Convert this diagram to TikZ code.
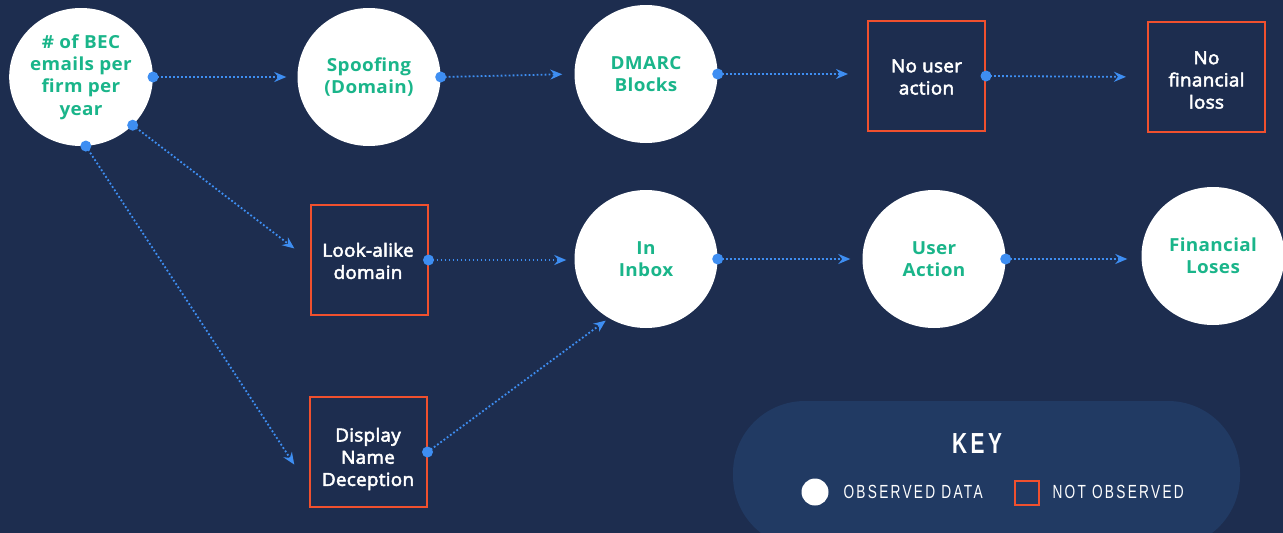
\documentclass[tikz,border=0pt]{standalone}
\usepackage{fontspec}
\setmainfont{Open Sans}
\newfontfamily\grnfont[FakeStretch=1.05,LetterSpace=2]{Open Sans}
\newfontfamily\semib[FakeBold=3,FakeStretch=1.05,LetterSpace=1.5]{Open Sans}
\newfontfamily\keyfont[FakeStretch=0.72,LetterSpace=12]{Liberation Sans}
\usetikzlibrary{arrows.meta,shapes.geometric}
\definecolor{bg}{HTML}{1D2D4F}
\definecolor{pill}{HTML}{213A63}
\definecolor{grn}{HTML}{1AB58A}
\definecolor{blu}{HTML}{3E8EF2}
\definecolor{org}{HTML}{F0502E}
\begin{document}
\begin{tikzpicture}[x=1pt,y=-1pt,
  obs/.style={ellipse,fill=white,minimum width=143pt,minimum height=138pt,inner sep=0pt,text=grn,
    font=\fontsize{18}{22.4}\selectfont\grnfont\bfseries,align=center},
  nobs/.style={draw=org,line width=2pt,minimum width=117pt,minimum height=110pt,
    inner sep=0pt},
  wtxt/.style={text=white,font=\fontsize{18}{22.2}\selectfont\semib,align=center},
  conn/.style={blu,line width=1.8pt,dash pattern=on 1.8pt off 2.2pt,
    -{Stealth[length=12pt,width=10pt,inset=4pt]}},
  dotb/.style={fill=blu},
  keylbl/.style={text=white,font=\fontsize{19}{20}\selectfont\keyfont}
]
\useasboundingbox (0,0) rectangle (1283,533);
\fill[bg] (0,0) rectangle (1283,533);
% key pill
\fill[pill,rounded corners=72pt] (733,401) rectangle (1240,548);

% observed nodes
\node[obs] (bec) at (81,77) {\# of BEC\\emails per\\firm per\\year};
\node[obs] (spoof) at (369,77) {Spoofing\\(Domain)};
\node[obs] (dmarc) at (646,74) {DMARC\\Blocks};
\node[obs] (inbox) at (646,259) {In\\Inbox};
\node[obs] (user) at (934,259) {User\\Action};
\node[obs] (fin) at (1213,256) {Financial\\Loses};

% not observed nodes
\node[nobs] (nouser) at (926.5,76) {};
\node[wtxt] (nousert) at (926.5,77) {No user\\action};
\node[nobs] (nofin) at (1206.5,77) {};
\node[wtxt] (nofint) at (1206.5,80) {No\\financial\\loss};
\node[nobs] (look) at (369,260) {};
\node[wtxt] (lookt) at (368,261) {Look-alike\\domain};
\node[nobs] (disp) at (368,452) {};
\node[wtxt] (dispt) at (368,459) {Display\\Name\\Deception};

% connectors
\draw[conn,shorten >=11pt] (bec.east) -- (spoof.west);
\draw[conn,shorten >=12pt] (spoof.east) -- (dmarc.west);
\draw[conn,shorten >=19pt] (dmarc.east) -- (nouser.west |- dmarc.east);
\draw[conn,shorten >=21pt] (nouser.east) -- (nofin.west);
\draw[conn,shorten >=19pt] (bec.-43) -- (look.west);
\draw[conn,shorten >=26pt] (bec.-86) -- (disp.210);
\draw[conn,shorten >=8pt] (look.east) -- (inbox.west |- look.east);
\draw[conn,shorten >=4pt] (disp.east) -- (inbox.238);
\draw[conn,shorten >=12pt] (inbox.east) -- (user.west);
\draw[conn,shorten >=14pt] (user.east) -- (fin.west |- user.east);

% start dots
\foreach \p in {bec.east,bec.-43,bec.-86,spoof.east,dmarc.east,nouser.east,look.east,disp.east,inbox.east,user.east}
  \fill[dotb] (\p) circle (5.5pt);

% key
\node[text=white,font=\fontsize{29}{30}\selectfont\keyfont\bfseries] (key) at (977,444) {KEY};
\node[circle,fill=white,minimum size=27pt,inner sep=0pt] (kcirc) at (815,492) {};
\node[keylbl,anchor=west] (kobs) at (840,492) {OBSERVED DATA};
\node[draw=org,line width=1.5pt,minimum size=24pt,inner sep=0pt] (ksq) at (1027,493) {};
\node[keylbl,anchor=west] (knot) at (1049,492) {NOT OBSERVED};
\end{tikzpicture}
\end{document}
